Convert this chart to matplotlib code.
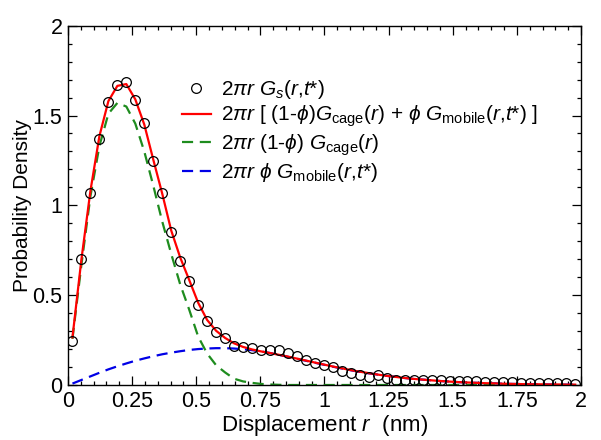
import matplotlib
matplotlib.use('Agg')
import matplotlib.pyplot as plt
from matplotlib.ticker import MultipleLocator, FormatStrFormatter
import numpy

plt.rcParams['font.family'] = ['Liberation Sans', 'DejaVu Sans']
plt.rcParams['mathtext.fontset'] = 'custom'
plt.rcParams['mathtext.rm'] = 'Liberation Sans'
plt.rcParams['mathtext.it'] = 'Liberation Sans:italic'
plt.rcParams['mathtext.bf'] = 'Liberation Sans:bold'

# bin centres (nm)
r = [0.0175, 0.0525, 0.0875, 0.1225, 0.1575, 0.1925, 0.2275, 0.2625, 0.2975, 0.3325,
     0.3675, 0.4025, 0.4375, 0.4725, 0.5075, 0.5425, 0.5775, 0.6125, 0.6475, 0.6825,
     0.7175, 0.7525, 0.7875, 0.8225, 0.8575, 0.8925, 0.9275, 0.9625, 0.9975, 1.0325,
     1.0675, 1.1025, 1.1375, 1.1725, 1.2075, 1.2425, 1.2775, 1.3125, 1.3475, 1.3825,
     1.4175, 1.4525, 1.4875, 1.5225, 1.5575, 1.5925, 1.6275, 1.6625, 1.6975, 1.7325,
     1.7675, 1.8025, 1.8375, 1.8725, 1.9075, 1.9425, 1.9775]

# simulation 2 pi r Gs(r,t*)
gs = [0.245, 0.70, 1.07, 1.37, 1.575, 1.67, 1.685, 1.585, 1.457, 1.245,
      1.07, 0.853, 0.69, 0.578, 0.448, 0.357, 0.296, 0.262, 0.216, 0.212,
      0.207, 0.193, 0.193, 0.195, 0.18, 0.16, 0.139, 0.121, 0.111, 0.098,
      0.080, 0.069, 0.056, 0.043, 0.056, 0.037, 0.030, 0.028, 0.030, 0.028,
      0.027, 0.026, 0.024, 0.023, 0.021, 0.020, 0.018, 0.017, 0.016, 0.014,
      0.013, 0.012, 0.011, 0.010, 0.009, 0.009, 0.008]

# total fit
fit = [0.265, 0.70, 1.08, 1.385, 1.58, 1.665, 1.675, 1.59, 1.45, 1.255,
       1.065, 0.86, 0.71, 0.585, 0.458, 0.362, 0.302, 0.262, 0.232, 0.212,
       0.198, 0.187, 0.178, 0.168, 0.158, 0.147, 0.136, 0.125, 0.114, 0.103,
       0.093, 0.083, 0.074, 0.066, 0.058, 0.051, 0.045, 0.039, 0.034, 0.030,
       0.026, 0.022, 0.019, 0.016, 0.014, 0.012, 0.010, 0.009, 0.007, 0.006,
       0.005, 0.004, 0.004, 0.003, 0.003, 0.002, 0.002]

# cage part
cage = [0.257, 0.67, 1.05, 1.33, 1.51, 1.57, 1.55, 1.455, 1.30, 1.11,
        0.91, 0.73, 0.56, 0.42, 0.27, 0.175, 0.11, 0.07, 0.035, 0.02,
        0.012, 0.006, 0.003, 0.001, 0, 0, 0, 0, 0, 0,
        0, 0, 0, 0, 0, 0, 0, 0, 0, 0,
        0, 0, 0, 0, 0, 0, 0, 0, 0, 0,
        0, 0, 0, 0, 0, 0, 0]

# mobile part
mobile = [0.008, 0.028, 0.048, 0.068, 0.087, 0.104, 0.12, 0.135, 0.148, 0.16,
          0.171, 0.18, 0.188, 0.195, 0.20, 0.203, 0.205, 0.205, 0.203, 0.199,
          0.194, 0.187, 0.178, 0.168, 0.157, 0.146, 0.135, 0.124, 0.113, 0.102,
          0.092, 0.082, 0.073, 0.065, 0.058, 0.051, 0.045, 0.039, 0.034, 0.030,
          0.026, 0.022, 0.019, 0.016, 0.014, 0.012, 0.010, 0.009, 0.007, 0.006,
          0.005, 0.004, 0.004, 0.003, 0.003, 0.002, 0.002]

lbl_gs = r'$2\pi r\ G_s$($r$,$t$*)'
lbl_fit = r'$2\pi r$ [ (1-$\phi$)$G_\mathrm{cage}$($r$) + $\phi\ G_\mathrm{mobile}$($r$,$t$*) ]'
lbl_cage = r'$2\pi r$ (1-$\phi$) $G_\mathrm{cage}$($r$)'
lbl_mob = r'$2\pi r\ \phi\ G_\mathrm{mobile}$($r$,$t$*)'

fig = plt.figure(figsize=(6.01, 4.40), dpi=100)
ax = fig.add_axes([0.1131, 0.125, 0.8536, 0.8166])

l_mob, = ax.plot(r, mobile, color='#0000e6', linewidth=1.6, dashes=(5, 3))
l_cage, = ax.plot(r, cage, color='#1e8c1e', linewidth=1.6, dashes=(5, 3))
l_fit, = ax.plot(r, fit, color='#ff0000', linewidth=1.6)
l_gs, = ax.plot(r, gs, linestyle='none', marker='o', markersize=7,
                markerfacecolor='none', markeredgecolor='black', markeredgewidth=0.9)

ax.set_xlim(0, 2)
ax.set_ylim(0, 2)
ax.xaxis.set_major_locator(MultipleLocator(0.25))
ax.xaxis.set_minor_locator(MultipleLocator(0.05))
ax.yaxis.set_major_locator(MultipleLocator(0.5))
ax.yaxis.set_minor_locator(MultipleLocator(0.1))
ax.xaxis.set_major_formatter(FormatStrFormatter('%g'))
ax.yaxis.set_major_formatter(FormatStrFormatter('%g'))
ax.tick_params(which='both', direction='in', top=True, right=True, labelsize=15.5, width=0.9)
ax.tick_params(which='major', length=6.5, pad=4)
ax.tick_params(which='minor', length=3)
for s in ax.spines.values():
    s.set_linewidth(1.0)

ax.set_xlabel(r'Displacement $r$  (nm)', fontsize=16, labelpad=1)
ax.set_ylabel('Probability Density', fontsize=15, labelpad=0)

ax.legend([l_gs, l_fit, l_cage, l_mob], [lbl_gs, lbl_fit, lbl_cage, lbl_mob],
          loc='upper left', bbox_to_anchor=(0.222, 0.855), frameon=False,
          fontsize=15, handlelength=1.4, handletextpad=0.5, labelspacing=0.15,
          borderpad=0, borderaxespad=0)

fig.savefig('out.png', dpi=100)
